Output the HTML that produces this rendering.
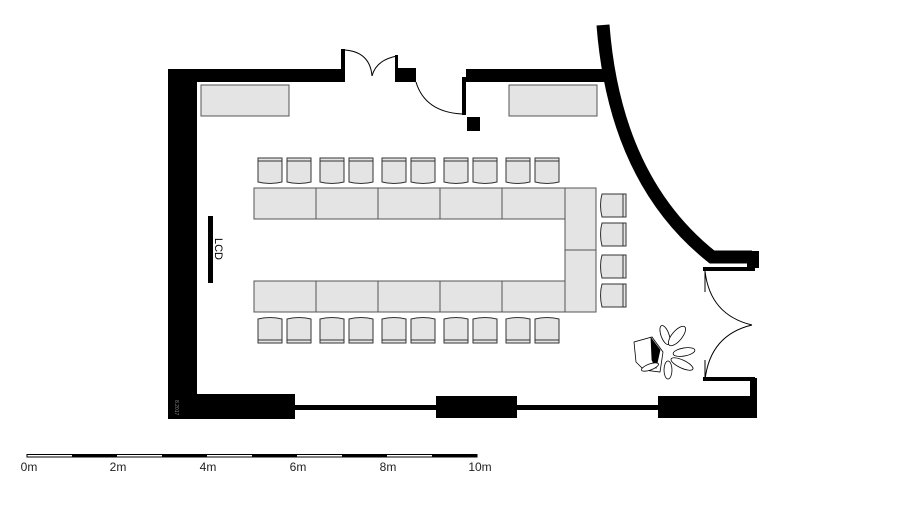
<!DOCTYPE html>
<html><head><style>body{margin:0;background:#fff}svg{display:block}</style></head><body>
<svg width="900" height="506" viewBox="0 0 900 506" xmlns="http://www.w3.org/2000/svg" font-family="Liberation Sans, sans-serif">
<g fill="#000">
<polygon points="168,69 342,69 342,82 197,82 197,394 295,394 295,419 173,419 168,419"/>
<rect x="341" y="49" width="4" height="33"/>
<rect x="395" y="55" width="3" height="27"/>
<rect x="396" y="68" width="20" height="14"/>
<rect x="462" y="77" width="4" height="38"/>
<polygon points="466,69 602,69 606,82 466,82"/>
<rect x="467" y="117" width="13" height="14"/>
<rect x="436" y="396" width="81" height="22"/>
<rect x="658" y="396" width="94" height="22"/>
<rect x="750" y="378" width="7" height="40"/>
<rect x="703" y="377" width="52" height="4"/>
<rect x="747" y="251" width="12" height="17"/>
<rect x="703" y="267" width="52" height="4"/>
<rect x="208" y="216" width="5" height="67"/>
<rect x="295" y="405" width="141" height="5"/>
<rect x="517" y="405" width="141" height="5"/>
</g>
<path d="M603,25 Q615,180 712,257 L752,257" fill="none" stroke="#000" stroke-width="13"/>
<g fill="none" stroke="#000" stroke-width="1">
<path d="M345,50 Q370,52 372,76"/><path d="M397,56 Q376,60 372,76"/>
<path d="M416,82 Q425,112 462,114"/>
<path d="M705,271 Q710,315 752,325"/><path d="M705,380 Q710,335 752,325"/>
<line x1="705" y1="271" x2="705" y2="292"/><line x1="705" y1="360" x2="705" y2="380"/>
</g>
<g fill="#e4e4e4" stroke="#555" stroke-width="1">
<rect x="201" y="85" width="88" height="31"/><rect x="509" y="85" width="88" height="31"/>
<rect x="254" y="188" width="62" height="31"/><rect x="316" y="188" width="62" height="31"/><rect x="378" y="188" width="62" height="31"/><rect x="440" y="188" width="62" height="31"/><rect x="502" y="188" width="63" height="31"/>
<rect x="254" y="281" width="62" height="31"/><rect x="316" y="281" width="62" height="31"/><rect x="378" y="281" width="62" height="31"/><rect x="440" y="281" width="62" height="31"/><rect x="502" y="281" width="63" height="31"/>
<rect x="565" y="188" width="31" height="62"/><rect x="565" y="250" width="31" height="62"/>
</g>
<g fill="#e4e4e4" stroke="#333" stroke-width="1">
<path d="M258,158h24v24q-12,3 -24,0z"/><path d="M287,158h24v24q-12,3 -24,0z"/>
<path d="M320,158h24v24q-12,3 -24,0z"/><path d="M349,158h24v24q-12,3 -24,0z"/>
<path d="M382,158h24v24q-12,3 -24,0z"/><path d="M411,158h24v24q-12,3 -24,0z"/>
<path d="M444,158h24v24q-12,3 -24,0z"/><path d="M473,158h24v24q-12,3 -24,0z"/>
<path d="M506,158h24v24q-12,3 -24,0z"/><path d="M535,158h24v24q-12,3 -24,0z"/>
<path d="M258,343h24v-24q-12,-3 -24,0z"/><path d="M287,343h24v-24q-12,-3 -24,0z"/>
<path d="M320,343h24v-24q-12,-3 -24,0z"/><path d="M349,343h24v-24q-12,-3 -24,0z"/>
<path d="M382,343h24v-24q-12,-3 -24,0z"/><path d="M411,343h24v-24q-12,-3 -24,0z"/>
<path d="M444,343h24v-24q-12,-3 -24,0z"/><path d="M473,343h24v-24q-12,-3 -24,0z"/>
<path d="M506,343h24v-24q-12,-3 -24,0z"/><path d="M535,343h24v-24q-12,-3 -24,0z"/>
<path d="M626,194v23h-24q-3,-12 0,-23z"/><path d="M626,223v23h-24q-3,-12 0,-23z"/>
<path d="M626,255v23h-24q-3,-12 0,-23z"/><path d="M626,284v23h-24q-3,-12 0,-23z"/>
</g>
<g stroke="#333" stroke-width="1">
<line x1="258" y1="161" x2="282" y2="161"/><line x1="287" y1="161" x2="311" y2="161"/><line x1="320" y1="161" x2="344" y2="161"/><line x1="349" y1="161" x2="373" y2="161"/><line x1="382" y1="161" x2="406" y2="161"/><line x1="411" y1="161" x2="435" y2="161"/><line x1="444" y1="161" x2="468" y2="161"/><line x1="473" y1="161" x2="497" y2="161"/><line x1="506" y1="161" x2="530" y2="161"/><line x1="535" y1="161" x2="559" y2="161"/>
<line x1="258" y1="340" x2="282" y2="340"/><line x1="287" y1="340" x2="311" y2="340"/><line x1="320" y1="340" x2="344" y2="340"/><line x1="349" y1="340" x2="373" y2="340"/><line x1="382" y1="340" x2="406" y2="340"/><line x1="411" y1="340" x2="435" y2="340"/><line x1="444" y1="340" x2="468" y2="340"/><line x1="473" y1="340" x2="497" y2="340"/><line x1="506" y1="340" x2="530" y2="340"/><line x1="535" y1="340" x2="559" y2="340"/>
<line x1="623" y1="194" x2="623" y2="217"/><line x1="623" y1="223" x2="623" y2="246"/><line x1="623" y1="255" x2="623" y2="278"/><line x1="623" y1="284" x2="623" y2="307"/>
</g>
<text x="0" y="0" font-size="11" transform="translate(215,238) rotate(90)" fill="#000">LCD</text>
<g fill="#fff" stroke="#000" stroke-width="0.8">
<polygon points="634,342 652,337 663,352 660,372 644,370 636,362"/>
<polygon points="651,338 660,350 656,368 652,360" fill="#000"/>
<ellipse cx="665" cy="335" rx="4" ry="10" transform="rotate(-20 665 335)"/>
<ellipse cx="677" cy="336" rx="5" ry="12" transform="rotate(40 677 336)"/>
<ellipse cx="684" cy="352" rx="11" ry="4" transform="rotate(-10 684 352)"/>
<ellipse cx="682" cy="364" rx="12" ry="4" transform="rotate(25 682 364)"/>
<ellipse cx="668" cy="370" rx="4" ry="9"/>
<ellipse cx="650" cy="367" rx="9" ry="3" transform="rotate(-20 650 367)"/>
</g>
<text x="0" y="0" font-size="5" transform="translate(175,400) rotate(90)" fill="#888">8.2017</text>
<g stroke="#000">
<rect x="27" y="454.5" width="450" height="2.5" fill="#fff" stroke-width="1"/>
<rect x="72" y="454" width="45" height="3.5" fill="#000" stroke="none"/>
<rect x="162" y="454" width="45" height="3.5" fill="#000" stroke="none"/>
<rect x="252" y="454" width="45" height="3.5" fill="#000" stroke="none"/>
<rect x="342" y="454" width="45" height="3.5" fill="#000" stroke="none"/>
<rect x="432" y="454" width="45" height="3.5" fill="#000" stroke="none"/>
</g>
<g font-size="12" fill="#222" text-anchor="middle">
<text x="29" y="471">0m</text><text x="118" y="471">2m</text><text x="208" y="471">4m</text><text x="298" y="471">6m</text><text x="388" y="471">8m</text><text x="480" y="471">10m</text>
</g>
</svg>
</body></html>
